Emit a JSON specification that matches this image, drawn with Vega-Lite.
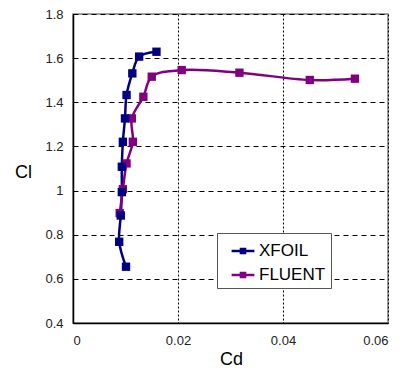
{
  "$schema": "https://vega.github.io/schema/vega-lite/v6.json",
  "width": 315,
  "height": 309,
  "autosize": {"type": "none"},
  "padding": {"left": 73, "top": 14, "right": 16, "bottom": 46},
  "background": "white",
  "config": {
    "view": {"stroke": "#808080", "strokeWidth": 1.5},
    "font": "Liberation Sans",
    "axis": {
      "labelFont": "Liberation Sans",
      "titleFont": "Liberation Sans",
      "labelColor": "#222222",
      "titleColor": "#000000",
      "domainColor": "#000000",
      "domainWidth": 1.5,
      "tickSize": 0,
      "gridColor": "#000000",
      "gridWidth": 1,
      "labelFontSize": 13,
      "titleFontSize": 18,
      "titleFontWeight": "normal"
    }
  },
  "data": {
    "values": [
      {"series": "XFOIL", "i": 1, "Cd": 0.0101, "Cl": 0.655},
      {"series": "XFOIL", "i": 2, "Cd": 0.0088, "Cl": 0.768},
      {"series": "XFOIL", "i": 3, "Cd": 0.0091, "Cl": 0.887},
      {"series": "XFOIL", "i": 4, "Cd": 0.0093, "Cl": 0.993},
      {"series": "XFOIL", "i": 5, "Cd": 0.0093, "Cl": 1.108},
      {"series": "XFOIL", "i": 6, "Cd": 0.0095, "Cl": 1.221},
      {"series": "XFOIL", "i": 7, "Cd": 0.0099, "Cl": 1.327},
      {"series": "XFOIL", "i": 8, "Cd": 0.0102, "Cl": 1.433},
      {"series": "XFOIL", "i": 9, "Cd": 0.0113, "Cl": 1.531},
      {"series": "XFOIL", "i": 10, "Cd": 0.0126, "Cl": 1.607},
      {"series": "XFOIL", "i": 11, "Cd": 0.0159, "Cl": 1.629},
      {"series": "FLUENT", "i": 1, "Cd": 0.0089, "Cl": 0.898},
      {"series": "FLUENT", "i": 2, "Cd": 0.0095, "Cl": 1.006},
      {"series": "FLUENT", "i": 3, "Cd": 0.0102, "Cl": 1.123},
      {"series": "FLUENT", "i": 4, "Cd": 0.0114, "Cl": 1.221},
      {"series": "FLUENT", "i": 5, "Cd": 0.0112, "Cl": 1.327},
      {"series": "FLUENT", "i": 6, "Cd": 0.0134, "Cl": 1.425},
      {"series": "FLUENT", "i": 7, "Cd": 0.0150, "Cl": 1.516},
      {"series": "FLUENT", "i": 8, "Cd": 0.0207, "Cl": 1.546},
      {"series": "FLUENT", "i": 9, "Cd": 0.0317, "Cl": 1.534},
      {"series": "FLUENT", "i": 10, "Cd": 0.0451, "Cl": 1.501},
      {"series": "FLUENT", "i": 11, "Cd": 0.0537, "Cl": 1.507}
    ]
  },
  "encoding": {
    "x": {
      "field": "Cd", "type": "quantitative",
      "scale": {"domain": [0, 0.06], "nice": false, "zero": false},
      "axis": {
        "title": "Cd", "values": [0, 0.02, 0.04, 0.06], "format": "~g",
        "labelPadding": 11, "gridDash": [2, 2],
        "titleX": 158, "titleY": 36, "titleAlign": "center", "titleBaseline": "middle"
      }
    },
    "y": {
      "field": "Cl", "type": "quantitative",
      "scale": {"domain": [0.4, 1.8], "nice": false, "zero": false},
      "axis": {
        "title": "Cl", "values": [0.4, 0.6, 0.8, 1, 1.2, 1.4, 1.6, 1.8], "format": "~g",
        "labelPadding": 10, "gridDash": [5, 4],
        "titleAngle": 0, "titleX": -50, "titleY": 158, "titleAlign": "center", "titleBaseline": "middle"
      }
    },
    "color": {
      "field": "series", "type": "nominal",
      "scale": {"domain": ["XFOIL", "FLUENT"], "range": ["#000080", "#800080"]},
      "legend": {
        "title": null,
        "orient": "none",
        "legendX": 144,
        "legendY": 219,
        "strokeColor": "#555555",
        "fillColor": "white",
        "padding": 5,
        "labelFontSize": 17,
        "labelFont": "Liberation Sans",
        "labelColor": "#000000",
        "rowPadding": 3,
        "symbolType": "M-1,0H1M-0.18,-0.18H0.18V0.18H-0.18Z",
        "symbolSize": 520,
        "symbolStrokeWidth": 2.5,
        "symbolOffset": 8,
        "labelOffset": 3,
        "encode": {
          "symbols": {
            "update": {
              "stroke": {"scale": "color", "field": "value"},
              "fill": {"scale": "color", "field": "value"}
            }
          }
        }
      }
    },
    "order": {"field": "i", "type": "quantitative"}
  },
  "layer": [
    {"mark": {"type": "line", "strokeWidth": 2.5, "interpolate": "catmull-rom"}},
    {"mark": {"type": "point", "shape": "square", "filled": true, "size": 70, "opacity": 1}}
  ]
}
